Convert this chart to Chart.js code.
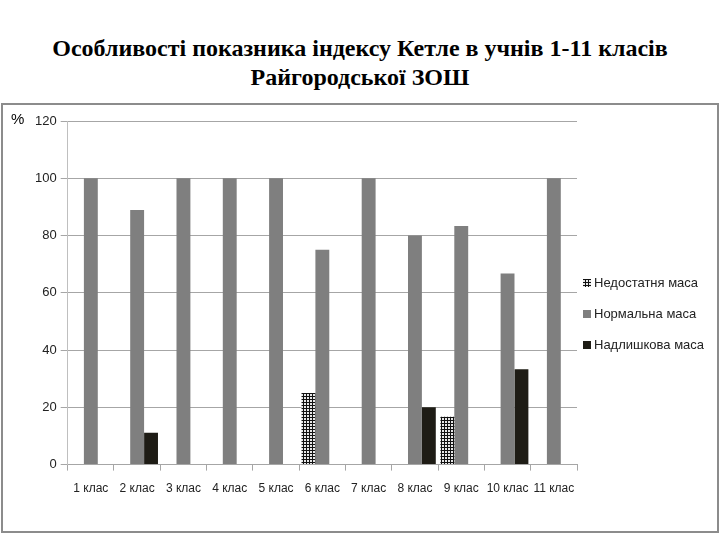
<!DOCTYPE html>
<html>
<head>
<meta charset="utf-8">
<script src="https://cdn.jsdelivr.net/npm/chart.js@4"></script>
<style>
    body { margin: 0; width: 720px; height: 540px; background: #fff; position: relative; overflow: hidden; }
    .chart-title {
        position: absolute; left: 0; top: 34px; width: 720px; text-align: center;
        font-family: "Liberation Serif", "Times New Roman", serif; font-weight: bold;
        font-size: 24px; line-height: 29px; color: #000;
    }
    .chart-box {
        position: absolute; left: 1px; top: 103px; width: 714px; height: 426px;
        border: 2px solid #8c8c8c;
    }
    .unit { position: absolute; left: 8px; top: 5px; font-family: "Liberation Sans", Arial, sans-serif; font-size: 15px; }
</style>
</head>
<body>
<div class="chart-title">Особливості показника індексу Кетле в учнів 1-11 класів<br>Райгородської ЗОШ</div>
<div class="chart-box">
    <canvas id="ketleChart" width="714" height="426"></canvas>
    <div class="unit">%</div>
</div>
<script>
const classes = ["1 клас", "2 клас", "3 клас", "4 клас", "5 клас", "6 клас", "7 клас", "8 клас", "9 клас", "10 клас", "11 клас"];
const underweight = [0, 0, 0, 0, 0, 25, 0, 0, 16.7, 0, 0];
const normalWeight = [100, 88.9, 100, 100, 100, 75, 100, 80, 83.3, 66.7, 100];
const overweight = [0, 11.1, 0, 0, 0, 0, 0, 20, 0, 33.3, 0];
const yTicks = [0, 20, 40, 60, 80, 100, 120];

function makeGridPattern() {
    const c = document.createElement("canvas");
    c.width = 3;
    c.height = 3;
    const g = c.getContext("2d");
    g.fillStyle = "#e8e8e8";
    g.fillRect(0, 0, 3, 3);
    g.fillStyle = "#111111";
    g.fillRect(0, 0, 3, 1);
    g.fillRect(0, 0, 1, 3);
    return g.createPattern(c, "repeat");
}

const fontFamily = "'Liberation Sans', Arial, sans-serif";
const ctx = document.getElementById("ketleChart").getContext("2d");
const gridPattern = makeGridPattern();

// legend drawn by hand so it can sit tight against the plot like in Excel
const sideLegend = {
    id: "sideLegend",
    afterDraw(chart) {
        const c = chart.ctx;
        const area = chart.chartArea;
        const x = area.right + 6;
        const firstY = 178;
        const step = 31;
        c.save();
        c.font = `13px ${fontFamily}`;
        c.textBaseline = "middle";
        chart.data.datasets.forEach((ds, i) => {
            const y = firstY + i * step;
            c.fillStyle = ds.backgroundColor;
            c.fillRect(x, y - 4, 8, 8);
            c.fillStyle = "#222";
            c.fillText(ds.label, x + 11, y);
        });
        c.restore();
    },
};

new Chart(ctx, {
    type: "bar",
    data: {
        labels: classes,
        datasets: [
            { label: "Недостатня маса", data: underweight, backgroundColor: gridPattern },
            { label: "Нормальна маса", data: normalWeight, backgroundColor: "#7f7f7f" },
            { label: "Надлишкова маса", data: overweight, backgroundColor: "#1e1c15" },
        ],
    },
    options: {
        responsive: false,
        animation: false,
        devicePixelRatio: 1,
        layout: { padding: { left: 28, top: 16, bottom: 24, right: 140 } },
        datasets: { bar: { categoryPercentage: 0.9, barPercentage: 1.0 } },
        scales: {
            x: {
                grid: { offset: true, drawOnChartArea: false, tickLength: 6, color: "#a6a6a6" },
                border: { color: "#a6a6a6" },
                ticks: { color: "#222", font: { family: fontFamily, size: 12 }, padding: 11, maxRotation: 0, autoSkip: false },
            },
            y: {
                min: 0,
                max: 120,
                afterBuildTicks: (axis) => { axis.ticks = yTicks.map((v) => ({ value: v })); },
                grid: { color: "#a6a6a6", tickLength: 7 },
                border: { color: "#bfbfbf" },
                ticks: { color: "#222", font: { family: fontFamily, size: 13 }, padding: 4 },
            },
        },
        plugins: {
            legend: { display: false },
            tooltip: { enabled: false },
        },
    },
    plugins: [sideLegend],
});
</script>
</body>
</html>
